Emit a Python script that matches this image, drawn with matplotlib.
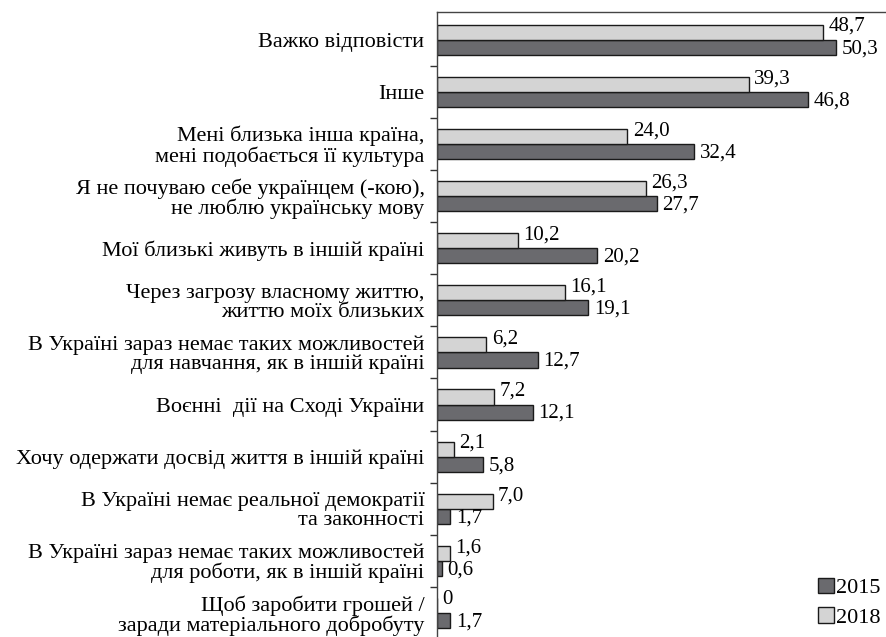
import numpy as np
import matplotlib.pyplot as plt

plt.rcParams['font.family'] = ['Liberation Serif', 'DejaVu Serif']

categories = [
    "Важко відповісти",
    "Інше",
    "Мені близька інша країна,\nмені подобається її культура",
    "Я не почуваю себе українцем (-кою),\nне люблю українську мову",
    "Мої близькі живуть в іншій країні",
    "Через загрозу власному життю,\nжиттю моїх близьких",
    "В Україні зараз немає таких можливостей\nдля навчання, як в іншій країні",
    "Воєнні  дії на Сході України",
    "Хочу одержати досвід життя в іншій країні",
    "В Україні немає реальної демократії\nта законності",
    "В Україні зараз немає таких можливостей\nдля роботи, як в іншій країні",
    "Щоб заробити грошей /\nзаради матеріального добробуту",
]
values_2018 = [48.7, 39.3, 24.0, 26.3, 10.2, 16.1, 6.2, 7.2, 2.1, 7.0, 1.6, 0]
values_2015 = [50.3, 46.8, 32.4, 27.7, 20.2, 19.1, 12.7, 12.1, 5.8, 1.7, 0.6, 1.7]

fig = plt.figure(figsize=(8.86, 6.37), dpi=100)
ax = fig.add_axes([437 / 886, 0.0, 449 / 886, (637 - 12) / 637])

y = np.arange(len(categories))
h = 0.29
light = '#d4d4d4'
dark = '#6a6a6e'

b15 = ax.barh(y + h / 2, values_2015, height=h, color=dark, edgecolor='#1a1a1a', linewidth=1.0, label='2015')
b18 = ax.barh(y - h / 2, values_2018, height=h, color=light, edgecolor='#1a1a1a', linewidth=1.0, label='2018')

def fmt(v):
    return ('%.1f' % v).replace('.', ',') if v != 0 else '0'

for yi, v in zip(y, values_2018):
    ax.annotate(fmt(v), (v, yi - h / 2), xytext=(4, 4), textcoords='offset points',
                ha='left', va='center', fontsize=15)
for yi, v in zip(y, values_2015):
    ax.annotate(fmt(v), (v, yi + h / 2), xytext=(4, -1), textcoords='offset points',
                ha='left', va='center', fontsize=15)

ax.set_xlim(0, 449 / 7.93)
ax.set_ylim(11.46, -0.53)
ax.set_yticks(y)
ax.set_yticklabels(categories, fontsize=16)
for t in ax.get_yticklabels():
    t.set_linespacing(1.0)
ax.tick_params(axis='y', length=0, pad=9)
ax.set_yticks(np.arange(len(categories) - 1) + 0.5, minor=True)
ax.tick_params(axis='y', which='minor', length=5, width=1, color='#333333')
ax.set_xticks([])
for s in ['right', 'bottom']:
    ax.spines[s].set_visible(False)
for s in ['left', 'top']:
    ax.spines[s].set_color('#444444')
    ax.spines[s].set_linewidth(1.0)

leg = ax.legend(handles=[b15, b18], loc='lower right', bbox_to_anchor=(1.012, -0.003),
                frameon=False, fontsize=16, handlelength=0.7, handleheight=0.7,
                handletextpad=0.1, labelspacing=0.4, borderaxespad=0.1)

fig.savefig('out.png', dpi=100)
